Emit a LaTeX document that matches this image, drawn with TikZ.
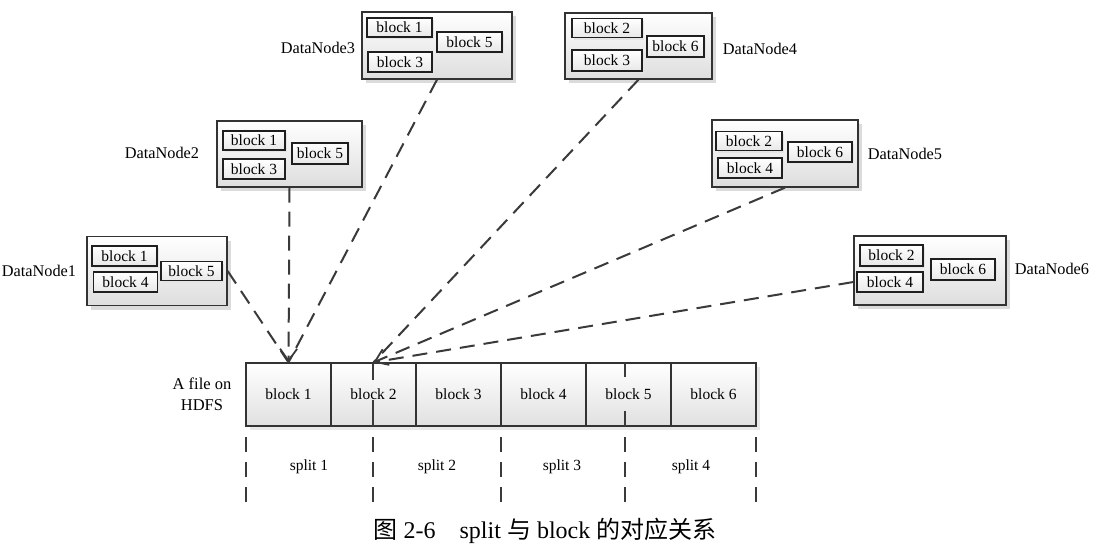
\documentclass[tikz,border=0pt]{standalone}
\usepackage{fontspec}
\setmainfont{Liberation Serif}
\newfontfamily\cjk{Noto Sans CJK SC}
\usetikzlibrary{arrows.meta,shadows,calc}
\definecolor{linegray}{HTML}{3A3A3A}
\definecolor{boxline}{HTML}{333333}
\begin{document}
\begin{tikzpicture}[x=1pt,y=-1pt,
  every node/.style={font=\fontsize{15.5}{18}\selectfont},
  dnbox/.style={draw=boxline, line width=1.3pt, top color=white, bottom color=black!13,
    inner sep=0pt, drop shadow={shadow xshift=4pt,shadow yshift=-4pt,fill=black!14,opacity=1}},
  blk/.style={draw=black!88, line width=1.9pt, top color=white, bottom color=black!9,
    inner sep=0pt, drop shadow={shadow xshift=2pt,shadow yshift=-2pt,fill=black!10,opacity=1}},
  cell/.style={draw=boxline, line width=1.3pt, top color=white, bottom color=black!12,
    minimum width=85pt, minimum height=63pt, inner sep=0pt},
  link/.style={draw=linegray, line width=2pt, dash pattern=on 15pt off 9pt},
  tip/.style={-{Straight Barb[length=12pt,width=17pt,line width=1.8pt]}},
  splitline/.style={draw=linegray, line width=1.8pt, dash pattern=on 15pt off 10pt},
  inrow/.style={draw=linegray, line width=1.8pt},
  lbl/.style={inner sep=0pt},
  dnl/.style={inner sep=0pt, font=\fontsize{16.3}{19}\selectfont}
]
\useasboundingbox[fill=white] (0,0) rectangle (1100,557);

% ---------- DataNode boxes ----------
\node[dnbox, minimum width=140pt, minimum height=69pt] (DN1) at (157,271) {};
\node[blk, minimum width=65pt, minimum height=20pt] (d1b1) at (124.5,256) {block 1};
\node[blk, minimum width=64pt, minimum height=20pt] (d1b4) at (125.5,282) {block 4};
\node[blk, minimum width=61pt, minimum height=19pt] (d1b5) at (191.5,271) {block 5};
\node[dnl] (L1) at (39,271) {DataNode1};

\node[dnbox, minimum width=145pt, minimum height=66pt] (DN2) at (289.5,154) {};
\node[blk, minimum width=62pt, minimum height=19pt] (d2b1) at (254,140.5) {block 1};
\node[blk, minimum width=62pt, minimum height=20pt] (d2b3) at (254,169) {block 3};
\node[blk, minimum width=56pt, minimum height=21pt] (d2b5) at (320,153.5) {block 5};
\node[dnl] (L2) at (162,153) {DataNode2};

\node[dnbox, minimum width=150pt, minimum height=67pt] (DN3) at (437,45.5) {};
\node[blk, minimum width=65pt, minimum height=19pt] (d3b1) at (399.5,27.5) {block 1};
\node[blk, minimum width=64pt, minimum height=20pt] (d3b3) at (400,62) {block 3};
\node[blk, minimum width=65pt, minimum height=20pt] (d3b5) at (469.5,42) {block 5};
\node[dnl] (L3) at (318,48) {DataNode3};

\node[dnbox, minimum width=147pt, minimum height=66pt] (DN4) at (638.5,46) {};
\node[blk, minimum width=70pt, minimum height=19pt] (d4b2) at (607,28) {block 2};
\node[blk, minimum width=70pt, minimum height=21pt] (d4b3) at (607,60.5) {block 3};
\node[blk, minimum width=57pt, minimum height=21pt] (d4b6) at (675.5,46.5) {block 6};
\node[dnl] (L4) at (760,49) {DataNode4};

\node[dnbox, minimum width=146pt, minimum height=67pt] (DN5) at (785,153.5) {};
\node[blk, minimum width=66pt, minimum height=19pt] (d5b2) at (749,141) {block 2};
\node[blk, minimum width=64pt, minimum height=20pt] (d5b4) at (750,168) {block 4};
\node[blk, minimum width=64pt, minimum height=20pt] (d5b6) at (820,152) {block 6};
\node[dnl] (L5) at (905,154) {DataNode5};

\node[dnbox, minimum width=152pt, minimum height=69pt] (DN6) at (930,270.5) {};
\node[blk, minimum width=63pt, minimum height=21pt] (d6b2) at (891.5,255.5) {block 2};
\node[blk, minimum width=66pt, minimum height=20pt] (d6b4) at (890,282) {block 4};
\node[blk, minimum width=64pt, minimum height=21pt] (d6b6) at (963,269.5) {block 6};
\node[dnl] (L6) at (1052,269) {DataNode6};

% ---------- file row ----------
\fill[black!9] (250,367) rectangle (760,430);
\node[cell] (r1) at (288.5,394.5) {block 1};
\node[cell] (r2) at (373.5,394.5) {block 2};
\node[cell] (r3) at (458.5,394.5) {block 3};
\node[cell] (r4) at (543.5,394.5) {block 4};
\node[cell] (r5) at (628.5,394.5) {block 5};
\node[cell] (r6) at (713.5,394.5) {block 6};
\node[lbl, align=center, font=\fontsize{16.5}{21}\selectfont] (fileLbl) at (202,394) {A file on\\HDFS};

% ---------- connectors ----------
\draw[link] (DN1.east) -- (r1.north);
\draw[link] (DN3.south) -- (r1.north);
\draw[link, tip] (DN2.south) -- (r1.north);
\draw[link] (DN4.south) -- (r2.north);
\draw[link] (DN6.west |- d6b4.west) -- (r2.north);
\draw[link, tip] (DN5.south) -- (r2.north);

% ---------- split boundaries ----------
\coordinate (a1) at (373,363); \coordinate (a2) at (373,380);
\coordinate (a3) at (373,400); \coordinate (a4) at (373,426);
\coordinate (c1) at (625,363); \coordinate (c2) at (625,377);
\coordinate (c3) at (625,411); \coordinate (c4) at (625,426);
\draw[inrow] (a1) -- (a2) (a3) -- (a4) (c1) -- (c2) (c3) -- (c4);
\foreach \sx [count=\i] in {246,373,501,625,756}{
  \coordinate (sp\i t) at (\sx,437);
  \coordinate (sp\i b) at (\sx,503);
  \draw[splitline] (sp\i t) -- (sp\i b);
}
\node[lbl] (s1) at (309,467) {split 1};
\node[lbl] (s2) at (437,467) {split 2};
\node[lbl] (s3) at (562,467) {split 3};
\node[lbl] (s4) at (691,467) {split 4};

% ---------- caption ----------
\node[lbl, font=\fontsize{24}{28}\selectfont] (cap) at (545,531)
  {{\cjk 图} 2-6\quad split {\cjk 与} block {\cjk 的对应关系}};
\end{tikzpicture}
\end{document}
